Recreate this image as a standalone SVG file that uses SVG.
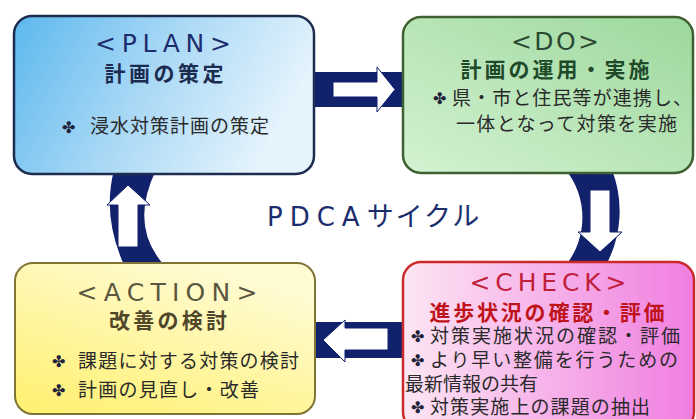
<svg xmlns="http://www.w3.org/2000/svg" width="696" height="419" viewBox="0 0 696 419">
<defs>
<linearGradient id="gPlan" x1="0" y1="0" x2="1" y2="0.3"><stop offset="0" stop-color="#5cb8ee"/><stop offset="0.5" stop-color="#a6d7f5"/><stop offset="1" stop-color="#e4f3fc"/></linearGradient>
<linearGradient id="gDo" x1="0" y1="1" x2="1" y2="0"><stop offset="0" stop-color="#d4f2d2"/><stop offset="1" stop-color="#9cd89c"/></linearGradient>
<linearGradient id="gAct" x1="0" y1="1" x2="0.6" y2="0"><stop offset="0" stop-color="#fff06e"/><stop offset="1" stop-color="#fffbd2"/></linearGradient>
<linearGradient id="gChk" x1="0" y1="0" x2="1" y2="0"><stop offset="0" stop-color="#fde6f3"/><stop offset="1" stop-color="#f07ee0"/></linearGradient>
</defs>
<style>
.band{fill:#11216c}
.warrow{fill:#ffffff;stroke:#11216c;stroke-width:1}
.hd{font-family:"DejaVu Sans","Noto Sans CJK JP",sans-serif;font-size:25px}
.sub{font-family:"Noto Sans CJK JP","Noto Sans",sans-serif;font-size:21px;font-weight:bold}
.item{font-family:"Noto Sans CJK JP","Noto Sans",sans-serif;font-size:19px;fill:#2a2a2a}
.bul{font-family:"DejaVu Sans",sans-serif;font-size:16px;fill:#22223a}
</style>
<rect width="696" height="419" fill="#ffffff"/>
<g id="connectors">
<rect class="band" x="312" y="72" width="92" height="35"/>
<path class="warrow" d="M333,82 H377 V67 L395,89.5 L377,112 V97 H333 Z"/>
<path class="band" d="M566,170 L612,170 A114 114 0 0 1 606,265 L566,265 A77 77 0 0 0 566,170 Z"/>
<path class="warrow" d="M590,190 H610 V232 H622 L600,252 L578,232 H590 Z"/>
<rect class="band" x="314" y="322" width="90" height="36"/>
<path class="warrow" d="M323,340 L345,320 V328 H388 V350 H345 V362 Z"/>
<path class="band" d="M114,170 L156,170 Q129,226 164,265 L124,265 Q102,216 114,170 Z"/>
<path class="warrow" d="M128,185 L150,205 H138 V247 H118 V205 H107 Z"/>
</g>
<text x="267" y="226" fill="#1c2c6c"><tspan font-family="DejaVu Sans, sans-serif" font-size="26" letter-spacing="7">PDCA</tspan><tspan font-family="Noto Sans CJK JP, sans-serif" font-size="27" letter-spacing="2">サイクル</tspan></text>
<g id="plan">
<rect x="14" y="16" width="300" height="158" rx="18" fill="url(#gPlan)" stroke="#1e2d4f" stroke-width="2.5"/>
<text class="hd" x="163" y="52" text-anchor="middle" textLength="136" lengthAdjust="spacing" fill="#1c2c6c">&lt;PLAN&gt;</text>
<text class="sub" x="164" y="81" text-anchor="middle" textLength="119" lengthAdjust="spacing" fill="#1c2c50">計画の策定</text>
<text class="bul" x="62" y="133">✤</text>
<text class="item" x="90" y="133" textLength="179" lengthAdjust="spacing">浸水対策計画の策定</text>
</g>
<g id="do">
<rect x="403" y="17" width="290" height="156" rx="18" fill="url(#gDo)" stroke="#3f6030" stroke-width="2.5"/>
<text class="hd" x="555" y="50" text-anchor="middle" textLength="88" lengthAdjust="spacing" fill="#2c4a34">&lt;DO&gt;</text>
<text class="sub" x="555" y="77" text-anchor="middle" textLength="189" lengthAdjust="spacing" fill="#1e4a2a">計画の運用・実施</text>
<text class="bul" x="433" y="104">✤</text>
<text class="item" x="452" y="105" textLength="240" lengthAdjust="spacing">県・市と住民等が連携し、</text>
<text class="item" x="456" y="131" textLength="221" lengthAdjust="spacing">一体となって対策を実施</text>
</g>
<g id="action">
<rect x="15" y="263" width="300" height="151" rx="18" fill="url(#gAct)" stroke="#7f7435" stroke-width="2"/>
<text class="hd" x="167" y="301" text-anchor="middle" textLength="181" lengthAdjust="spacing" fill="#5a5640">&lt;ACTION&gt;</text>
<text class="sub" x="168" y="328" text-anchor="middle" textLength="118" lengthAdjust="spacing" fill="#50462a">改善の検討</text>
<text class="bul" x="52" y="367">✤</text>
<text class="item" x="78" y="368" textLength="221" lengthAdjust="spacing">課題に対する対策の検討</text>
<text class="bul" x="52" y="396">✤</text>
<text class="item" x="78" y="397" textLength="181" lengthAdjust="spacing">計画の見直し・改善</text>
</g>
<g id="check">
<rect x="403" y="262" width="291" height="168" rx="18" fill="url(#gChk)" stroke="#cc2a2a" stroke-width="2.5"/>
<text class="hd" x="548" y="291" text-anchor="middle" textLength="157" lengthAdjust="spacing" fill="#c0203a">&lt;CHECK&gt;</text>
<text class="sub" x="547" y="320" text-anchor="middle" font-size="22" textLength="235" lengthAdjust="spacing" fill="#c0141c">進歩状況の確認・評価</text>
<text class="bul" x="411" y="342">✤</text>
<text class="item" x="430" y="343" textLength="250" lengthAdjust="spacing">対策実施状況の確認・評価</text>
<text class="bul" x="411" y="366">✤</text>
<text class="item" x="430" y="367" textLength="248" lengthAdjust="spacing">より早い整備を行うための</text>
<text class="item" x="405" y="391" textLength="133" lengthAdjust="spacing">最新情報の共有</text>
<text class="bul" x="411" y="413">✤</text>
<text class="item" x="430" y="414" textLength="220" lengthAdjust="spacing">対策実施上の課題の抽出</text>
</g>
</svg>
